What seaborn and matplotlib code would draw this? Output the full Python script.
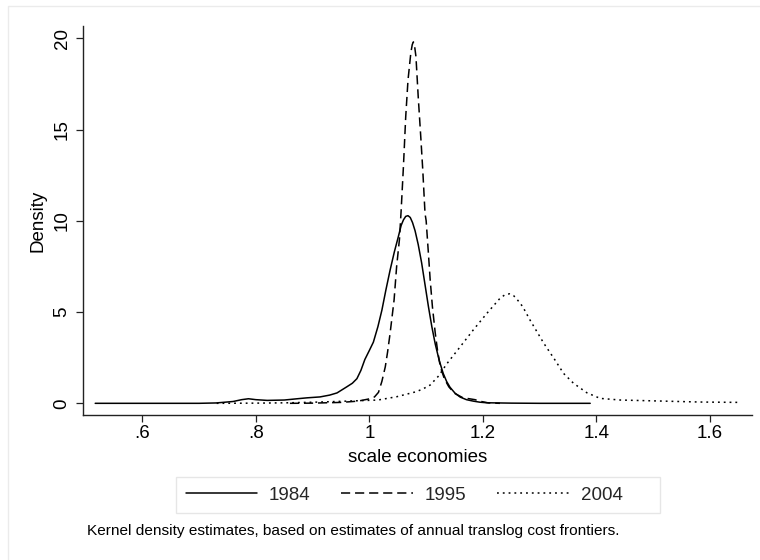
import matplotlib
matplotlib.use("Agg")
import matplotlib.pyplot as plt
from matplotlib.patches import Rectangle
import pandas as pd
import seaborn as sns

# Kernel density curves of scale economies, one per year
x_1984 = [0.517, 0.60, 0.70, 0.73, 0.76, 0.775, 0.787, 0.80, 0.82, 0.85, 0.873,
          0.89, 0.913, 0.93, 0.943, 0.96, 0.97, 0.978, 0.985, 0.992, 1.0, 1.007,
          1.015, 1.022, 1.029, 1.0365, 1.044, 1.051, 1.056, 1.06, 1.064, 1.068,
          1.072, 1.076, 1.0805, 1.086, 1.092, 1.098, 1.104, 1.110, 1.116, 1.123,
          1.130, 1.136, 1.142, 1.151, 1.16, 1.171, 1.183, 1.195, 1.207, 1.25,
          1.30, 1.389]
y_1984 = [0.0, 0.0, 0.0, 0.02, 0.1, 0.2, 0.25, 0.2, 0.16, 0.18, 0.25,
          0.3, 0.35, 0.45, 0.57, 0.9, 1.1, 1.35, 1.8, 2.4, 2.9, 3.35,
          4.2, 5.1, 6.2, 7.3, 8.3, 9.13, 9.75, 10.05, 10.24, 10.28,
          10.18, 9.9, 9.45, 8.7, 7.7, 6.5, 5.3, 4.2, 3.25, 2.35,
          1.64, 1.2, 0.88, 0.55, 0.34, 0.2, 0.12, 0.06, 0.03, 0.01,
          0.0, 0.0]

x_1995 = [0.86, 0.90, 0.95, 0.98, 1.001, 1.009, 1.016, 1.022, 1.028, 1.032,
          1.0365, 1.0435, 1.048, 1.053, 1.056, 1.060, 1.064, 1.068, 1.073, 1.0755,
          1.0775, 1.0795, 1.082, 1.086, 1.0905, 1.094, 1.098, 1.100, 1.104, 1.107,
          1.111, 1.116, 1.12, 1.125, 1.132, 1.14, 1.15, 1.165, 1.176, 1.186,
          1.197, 1.21, 1.23]
y_1995 = [0.0, 0.01, 0.05, 0.12, 0.25, 0.35, 0.6, 1.2, 2.0, 2.8,
          3.84, 5.66, 7.5, 9.0, 10.6, 13.0, 15.7, 17.7, 19.2, 19.65,
          19.8, 19.6, 19.0, 16.8, 14.6, 12.8, 10.4, 10.0, 8.2, 6.8,
          5.3, 3.85, 2.9, 2.0, 1.35, 0.9, 0.55, 0.3, 0.25, 0.2,
          0.1, 0.02, 0.0]

x_2004 = [0.731, 0.80, 0.86, 0.913, 0.96, 1.015, 1.048, 1.083, 1.095, 1.107,
          1.122, 1.136, 1.160, 1.183, 1.207, 1.230, 1.238, 1.2467, 1.254, 1.26,
          1.27, 1.283, 1.307, 1.327, 1.342, 1.3595, 1.383, 1.4065, 1.442, 1.506,
          1.583, 1.653]
y_2004 = [0.0, 0.01, 0.03, 0.07, 0.12, 0.18, 0.36, 0.64, 0.8, 1.0,
          1.5, 2.15, 3.1, 4.02, 4.93, 5.75, 5.93, 6.0, 5.9, 5.7,
          5.3, 4.56, 3.3, 2.37, 1.64, 1.10, 0.58, 0.27, 0.18, 0.13,
          0.07, 0.05]

years = ["1984", "1995", "2004"]
x_ticks = [0.6, 0.8, 1.0, 1.2, 1.4, 1.6]
x_tick_labels = [".6", ".8", "1", "1.2", "1.4", "1.6"]
y_ticks = [0, 5, 10, 15, 20]
x_title = "scale economies"
y_title = "Density"
note = "Kernel density estimates, based on estimates of annual translog cost frontiers."

frames = []
for yr, xs, ys in zip(years, [x_1984, x_1995, x_2004], [y_1984, y_1995, y_2004]):
    frames.append(pd.DataFrame({"scale": xs, "density": ys, "year": yr}))
df = pd.concat(frames, ignore_index=True)

sns.set_theme(style="white")
plt.rcParams["font.family"] = ["Liberation Sans", "DejaVu Sans"]

FS = 13.5
W, H = 760, 560

fig = plt.figure(figsize=(W / 100, H / 100), dpi=100)
ax = fig.add_axes([83 / W, 1 - 415 / H, (752 - 83) / W, (415 - 26) / H])

sns.lineplot(
    data=df, x="scale", y="density", hue="year", style="year",
    palette={y: "black" for y in years},
    dashes={"1984": "", "1995": (6.0, 3.2), "2004": (1.2, 2.6)},
    estimator=None, sort=False, linewidth=1.1, legend=True, ax=ax,
)

ax.set_xlim(0.4955, 1.674)
ax.set_ylim(-0.64, 20.67)
ax.set_xticks(x_ticks)
ax.set_xticklabels(x_tick_labels)
ax.set_yticks(y_ticks)
ax.set_yticklabels([str(v) for v in y_ticks], rotation=90, va="center")

for side in ["top", "right"]:
    ax.spines[side].set_visible(False)
for side in ["left", "bottom"]:
    ax.spines[side].set_color("#222222")
    ax.spines[side].set_linewidth(1.0)

ax.tick_params(axis="both", which="major", direction="out", length=5, width=0.9,
               color="#222222", labelsize=FS, labelcolor="black",
               bottom=True, left=True)
ax.tick_params(axis="x", pad=2)
ax.tick_params(axis="y", pad=4)

ax.set_xlabel(x_title, fontsize=FS, color="black", labelpad=5)
ax.set_ylabel(y_title, fontsize=FS, color="black", labelpad=5)

# legend entries without their own frame; the key box is drawn separately
handles, labels = ax.get_legend_handles_labels()
ax.get_legend().remove()
leg = fig.legend(handles, labels, loc="center", bbox_to_anchor=(404 / W, 1 - 495 / H),
                 ncol=3, frameon=False, fontsize=FS,
                 handlelength=3.8, handletextpad=0.64, columnspacing=1.65,
                 borderpad=0.4)
fig.patches.append(Rectangle((176 / W, 1 - 513 / H), (660 - 176) / W, (513 - 477) / H,
                             transform=fig.transFigure, fill=False,
                             edgecolor="#e6e6e6", linewidth=1.0))

fig.text(87 / W, 1 - 531 / H, note, fontsize=11.1, va="center", ha="left", color="black")

# faint outer frame of the graph region
fig.patches.append(Rectangle((8 / W, -0.05), 1.0, 554 / H + 0.05,
                             transform=fig.transFigure, fill=False,
                             edgecolor="#ebebeb", linewidth=1.0))

fig.savefig("out.png", dpi=100, facecolor="white")
